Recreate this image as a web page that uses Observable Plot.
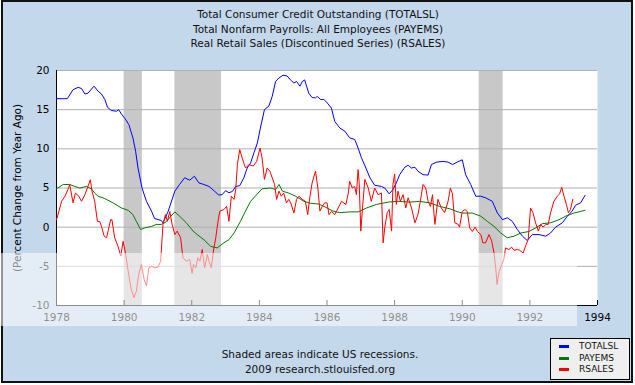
<!DOCTYPE html>
<html>
<head>
<meta charset="utf-8">
<script src="https://cdn.jsdelivr.net/npm/d3@7"></script>
<script src="https://cdn.jsdelivr.net/npm/@observablehq/plot@0.6"></script>
<style>
  body { margin: 0; background: #ffffff; font-family: "DejaVu Sans", sans-serif; }
  #frame { position: absolute; left: 1px; top: 0; width: 632px; height: 383px; box-sizing: border-box; border: 2px solid #111; background: #c4d8ec; }
  #chart { position: absolute; left: 0; top: 0; }
  #band { position: absolute; left: 0; top: 253px; width: 577px; height: 73px; background: rgba(255,255,255,0.55); }
  #title { position: absolute; left: 0; top: 7px; width: 636px; text-align: center; font-size: 10.5px; line-height: 14.5px; color: #111; }
  #caption { position: absolute; left: 0; top: 347px; width: 640px; text-align: center; font-size: 10.5px; line-height: 15px; color: #111; }
  #legend { position: absolute; left: 550px; top: 338px; width: 80px; height: 42px; box-sizing: border-box; border: 1px solid #000; background: #efefef; font-size: 9px; color: #111; }
  .lg-row { position: absolute; left: 0; height: 11px; width: 78px; }
  .lg-sw { position: absolute; left: 8px; top: 4px; width: 10px; height: 3px; }
  .lg-tx { position: absolute; left: 28px; top: -1px; line-height: 12px; }
</style>
</head>
<body>
<div id="frame"></div>
<div id="chart"></div>
<div id="band"></div>
<div id="title"></div>
<div id="caption"></div>
<div id="legend"></div>
<script>
const titleLines = [
  "Total Consumer Credit Outstanding (TOTALSL)",
  "Total Nonfarm Payrolls: All Employees (PAYEMS)",
  "Real Retail Sales (Discontinued Series) (RSALES)"
];
const captionLines = ["Shaded areas indicate US recessions.", "2009 research.stlouisfed.org"];
const yLabel = "(Percent Change from Year Ago)";
const seriesNames = ["TOTALSL", "PAYEMS", "RSALES"];
const seriesColors = ["#0000ff", "#007a00", "#ff0000"];
const xTicks = [1978, 1980, 1982, 1984, 1986, 1988, 1990, 1992, 1994];
const yTicks = [-10, -5, 0, 5, 10, 15, 20];
const recessions = [[1980.0, 1980.54], [1981.5, 1982.88], [1990.5, 1991.21]];

const totalsl = [[1978.0,16.4],[1978.32,16.4],[1978.49,17.55],[1978.64,17.85],[1978.74,17.7],[1978.84,17.0],[1978.93,17.1],[1979.11,18.0],[1979.23,17.35],[1979.33,17.0],[1979.43,16.3],[1979.51,15.3],[1979.62,14.9],[1979.77,14.8],[1979.84,15.0],[1979.92,14.45],[1980.02,13.9],[1980.14,13.1],[1980.26,11.4],[1980.34,9.7],[1980.41,7.55],[1980.53,5.0],[1980.66,3.3],[1980.81,2.05],[1980.90,1.1],[1981.10,0.85],[1981.15,0.55],[1981.30,2.0],[1981.50,4.6],[1981.64,5.45],[1981.79,6.3],[1981.94,6.0],[1982.08,6.5],[1982.21,5.65],[1982.36,5.45],[1982.51,5.2],[1982.66,4.65],[1982.80,4.1],[1982.90,4.15],[1983.00,4.65],[1983.10,4.4],[1983.20,4.55],[1983.30,5.2],[1983.42,5.3],[1983.54,6.3],[1983.64,7.55],[1983.74,8.2],[1983.84,9.5],[1983.94,10.75],[1984.03,12.65],[1984.15,15.0],[1984.28,15.45],[1984.38,16.7],[1984.48,18.6],[1984.58,19.05],[1984.70,19.4],[1984.82,19.3],[1984.92,18.8],[1985.02,18.4],[1985.10,18.6],[1985.20,18.0],[1985.27,18.6],[1985.34,18.8],[1985.46,17.1],[1985.56,16.55],[1985.66,16.5],[1985.71,16.7],[1985.81,16.3],[1985.91,16.3],[1986.0,15.9],[1986.13,15.2],[1986.23,13.5],[1986.38,12.65],[1986.53,12.25],[1986.67,11.4],[1986.82,11.2],[1986.92,10.1],[1987.02,8.85],[1987.15,7.55],[1987.27,6.3],[1987.41,5.35],[1987.61,5.2],[1987.71,5.0],[1987.84,4.25],[1987.95,4.8],[1988.05,5.65],[1988.15,6.7],[1988.30,7.65],[1988.40,7.9],[1988.50,7.55],[1988.60,7.65],[1988.69,7.15],[1988.84,6.7],[1988.99,6.65],[1989.09,8.0],[1989.24,8.3],[1989.43,8.4],[1989.58,8.3],[1989.71,8.0],[1989.85,8.3],[1990.00,8.6],[1990.10,6.7],[1990.25,5.45],[1990.40,3.95],[1990.54,3.95],[1990.69,3.75],[1990.89,3.3],[1991.04,1.8],[1991.19,0.95],[1991.33,1.2],[1991.48,0.75],[1991.63,-0.3],[1991.78,-1.15],[1991.92,-1.7],[1992.07,-0.95],[1992.27,-0.95],[1992.47,-1.15],[1992.61,-0.75],[1992.76,0.0],[1992.96,0.55],[1993.11,1.4],[1993.25,2.05],[1993.35,2.8],[1993.50,3.1],[1993.63,4.05]];

const payems = [[1978.0,4.9],[1978.2,5.45],[1978.39,5.45],[1978.54,5.2],[1978.69,5.0],[1978.89,5.2],[1979.03,4.9],[1979.13,4.35],[1979.23,3.95],[1979.43,3.65],[1979.67,3.1],[1979.92,2.45],[1980.12,2.15],[1980.26,1.6],[1980.36,0.75],[1980.49,-0.3],[1980.61,-0.1],[1980.81,0.1],[1980.95,0.35],[1981.10,0.35],[1981.25,0.7],[1981.35,1.25],[1981.50,1.95],[1981.64,1.4],[1981.84,0.55],[1982.04,-0.5],[1982.16,-0.95],[1982.36,-1.6],[1982.56,-2.45],[1982.75,-2.65],[1982.95,-2.0],[1983.10,-1.6],[1983.25,-0.75],[1983.44,0.75],[1983.59,2.05],[1983.74,3.3],[1983.94,4.25],[1984.08,4.9],[1984.33,5.0],[1984.48,4.8],[1984.58,5.45],[1984.68,4.6],[1984.87,4.35],[1985.07,3.95],[1985.32,3.3],[1985.51,3.05],[1985.76,2.95],[1986.0,2.45],[1986.18,2.05],[1986.38,1.85],[1986.67,1.95],[1986.92,1.95],[1987.17,2.45],[1987.46,2.9],[1987.81,3.2],[1988.10,3.3],[1988.45,3.2],[1988.74,3.3],[1989.04,3.1],[1989.33,2.65],[1989.63,2.35],[1989.87,1.95],[1990.0,1.8],[1990.30,1.8],[1990.55,1.4],[1990.74,0.75],[1990.94,0.1],[1991.14,-0.75],[1991.33,-1.35],[1991.53,-1.15],[1991.73,-0.75],[1991.97,-0.55],[1992.17,-0.1],[1992.37,0.45],[1992.61,0.55],[1992.86,0.95],[1993.06,1.4],[1993.30,1.8],[1993.63,2.15]];

const rsales = [[1978.0,0.95],[1978.07,2.0],[1978.15,3.3],[1978.25,3.95],[1978.34,4.8],[1978.39,5.45],[1978.49,3.1],[1978.56,4.35],[1978.66,3.95],[1978.74,3.3],[1978.84,4.15],[1978.93,5.2],[1979.0,6.05],[1979.05,4.6],[1979.13,3.3],[1979.21,0.75],[1979.28,0.7],[1979.33,0.1],[1979.41,-1.15],[1979.48,-1.35],[1979.53,-0.45],[1979.60,0.95],[1979.64,0.95],[1979.72,-1.35],[1979.82,-2.45],[1979.90,-3.7],[1979.97,-1.8],[1980.04,-3.3],[1980.12,-5.6],[1980.20,-7.75],[1980.29,-9.0],[1980.36,-8.2],[1980.43,-6.05],[1980.51,-4.75],[1980.59,-6.65],[1980.66,-7.5],[1980.73,-5.2],[1980.81,-5.0],[1980.90,-5.2],[1981.0,-5.1],[1981.08,-4.35],[1981.15,0.35],[1981.22,1.6],[1981.28,0.75],[1981.35,2.0],[1981.42,0.35],[1981.50,-0.95],[1981.57,-0.5],[1981.67,-1.35],[1981.74,-3.9],[1981.84,-4.35],[1981.94,-4.1],[1982.01,-5.9],[1982.05,-4.75],[1982.12,-5.2],[1982.18,-3.9],[1982.24,-4.35],[1982.31,-2.85],[1982.38,-5.2],[1982.46,-3.5],[1982.51,-4.35],[1982.58,-5.2],[1982.64,-3.05],[1982.71,-1.35],[1982.77,0.55],[1982.83,2.05],[1982.95,2.25],[1983.03,2.65],[1983.10,0.75],[1983.17,3.95],[1983.25,3.55],[1983.30,4.8],[1983.35,8.0],[1983.42,9.9],[1983.49,8.85],[1983.59,7.55],[1983.69,8.0],[1983.82,7.8],[1983.92,8.4],[1984.02,10.1],[1984.08,8.85],[1984.15,6.1],[1984.23,7.55],[1984.31,7.15],[1984.38,6.3],[1984.45,5.45],[1984.51,3.55],[1984.58,4.6],[1984.65,3.95],[1984.72,4.35],[1984.80,3.1],[1984.87,3.55],[1984.94,2.95],[1985.02,1.8],[1985.10,3.55],[1985.17,3.95],[1985.27,3.55],[1985.36,3.3],[1985.43,1.6],[1985.49,3.75],[1985.56,5.65],[1985.66,7.15],[1985.73,5.0],[1985.79,2.05],[1985.86,2.65],[1985.93,3.1],[1986.0,3.1],[1986.06,1.6],[1986.13,2.0],[1986.23,1.6],[1986.33,2.45],[1986.43,3.3],[1986.56,2.9],[1986.63,4.35],[1986.67,5.85],[1986.75,5.0],[1986.82,5.2],[1986.87,4.15],[1986.92,7.35],[1986.95,5.85],[1987.0,-0.5],[1987.05,2.45],[1987.12,6.1],[1987.22,5.0],[1987.31,3.3],[1987.41,5.0],[1987.51,4.15],[1987.61,4.35],[1987.66,-2.0],[1987.71,0.0],[1987.78,1.85],[1987.84,2.25],[1987.91,-0.5],[1987.95,5.45],[1988.0,6.8],[1988.05,2.9],[1988.10,4.6],[1988.17,3.3],[1988.25,4.15],[1988.33,2.45],[1988.40,3.75],[1988.50,2.45],[1988.60,0.55],[1988.69,1.6],[1988.76,3.3],[1988.84,5.45],[1988.92,5.0],[1988.99,3.3],[1989.06,2.65],[1989.12,4.15],[1989.19,0.35],[1989.28,3.55],[1989.38,2.45],[1989.48,1.85],[1989.58,3.3],[1989.65,5.0],[1989.71,4.25],[1989.78,0.55],[1989.88,0.35],[1989.92,0.0],[1990.0,2.0],[1990.08,2.25],[1990.15,2.0],[1990.22,-0.1],[1990.30,-0.55],[1990.38,0.0],[1990.45,-0.55],[1990.55,-0.95],[1990.61,-2.0],[1990.69,-2.0],[1990.79,-0.95],[1990.87,-1.75],[1990.94,-3.3],[1990.99,-5.2],[1991.03,-7.3],[1991.09,-5.65],[1991.17,-4.75],[1991.23,-4.1],[1991.28,-2.65],[1991.38,-2.85],[1991.46,-2.55],[1991.53,-2.95],[1991.63,-2.85],[1991.70,-2.95],[1991.80,-3.3],[1991.89,-2.2],[1991.95,-1.6],[1992.02,2.45],[1992.09,1.85],[1992.17,0.55],[1992.25,-0.5],[1992.32,0.35],[1992.39,0.0],[1992.47,0.35],[1992.54,0.35],[1992.61,1.8],[1992.71,3.3],[1992.81,3.95],[1992.88,4.25],[1992.94,5.1],[1993.01,3.95],[1993.08,2.9],[1993.14,1.85],[1993.20,2.25],[1993.27,3.55]];

const seriesData = [totalsl, payems, rsales];

const chart = Plot.plot({
  width: 635,
  height: 385,
  marginLeft: 56,
  marginRight: 38,
  marginTop: 70,
  marginBottom: 80,
  style: { fontFamily: '"DejaVu Sans", sans-serif', fontSize: "10.5px", background: "transparent", color: "#000", overflow: "visible" },
  x: { domain: [xTicks[0], xTicks[xTicks.length - 1]], ticks: xTicks, tickFormat: d => String(d), tickSize: 0, tickPadding: 8, label: null },
  y: { domain: [yTicks[0], yTicks[yTicks.length - 1]], ticks: yTicks, tickFormat: d => String(d), tickSize: 0, tickPadding: 7, label: yLabel, labelAnchor: "center", labelOffset: 43, labelArrow: false },
  marks: [
    Plot.frame({ fill: "#ffffff", stroke: "none" }),
    Plot.rect(recessions, { x1: d => d[0], x2: d => d[1], fill: "#c8c8c8" }),
    Plot.ruleY(yTicks.slice(1), { stroke: "#b0b0b0" }),
    Plot.ruleX([xTicks[0]], { stroke: "#000" }),
    Plot.ruleY([yTicks[0]], { stroke: "#000" }),
    Plot.ruleX(xTicks.slice(1), { stroke: "#000", insetTop: 230 }),
    ...seriesData.map((s, i) => Plot.line(s, { x: d => d[0], y: d => d[1], stroke: seriesColors[i], strokeWidth: 1 }))
  ]
});
document.getElementById("chart").appendChild(chart);

document.getElementById("title").innerHTML = titleLines.map(t => `<div>${t}</div>`).join("");
document.getElementById("caption").innerHTML = captionLines.map(t => `<div>${t}</div>`).join("");
document.getElementById("legend").innerHTML = seriesNames.map((n, i) =>
  `<div class="lg-row" style="top:${2 + i * 11.5}px"><div class="lg-sw" style="background:${seriesColors[i]}"></div><div class="lg-tx">${n}</div></div>`
).join("");
</script>
</body>
</html>
